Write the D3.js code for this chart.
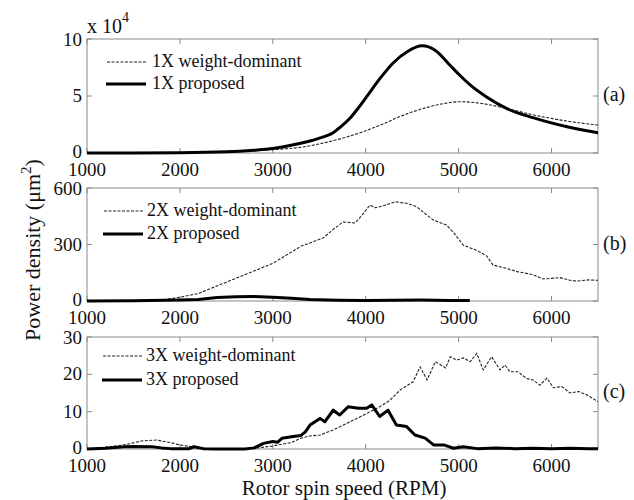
<!DOCTYPE html>
<html>
<head>
<meta charset="utf-8">
<script src="https://cdn.jsdelivr.net/npm/d3@7"></script>
<style>
  body { margin: 0; background: #fff; }
</style>
</head>
<body>
<div id="chart"></div>
<script>
// ---- data ----
const xTicks = [1000, 2000, 3000, 4000, 5000, 6000];

// panel (a), units of 10^4 um^2
const rpm1wd = [1000, 1500, 2000, 2500, 2800, 3000, 3300, 3500, 3750, 4000, 4200, 4400, 4660, 4850, 5015, 5200, 5520, 5800, 6167, 6500];
const val1wd = [0, 0.01, 0.03, 0.1, 0.2, 0.3, 0.5, 0.8, 1.3, 1.95, 2.6, 3.3, 4.0, 4.35, 4.5, 4.4, 3.9, 3.35, 2.8, 2.45];
const rpm1pr = [1000, 1500, 2000, 2500, 2800, 3000, 3300, 3400, 3500, 3575, 3650, 3730, 3830, 3920, 4010, 4150, 4295, 4450, 4606, 4750, 4907, 5015, 5150, 5305, 5520, 5800, 6167, 6500];
const val1pr = [0, 0.005, 0.02, 0.1, 0.25, 0.4, 0.85, 1.05, 1.3, 1.5, 1.78, 2.3, 3.05, 3.95, 4.94, 6.5, 7.9, 8.9, 9.4, 9.0, 7.7, 6.8, 5.8, 4.9, 3.9, 3.1, 2.3, 1.77];

// panel (b), um^2
const rpm2wd = [1000, 1500, 1800, 2000, 2200, 2500, 2750, 3000, 3300, 3540, 3650, 3757, 3885, 3950, 4046, 4100, 4150, 4250, 4315, 4450, 4550, 4650, 4727, 4870, 4950, 5050, 5200, 5300, 5370, 5500, 5630, 5800, 5910, 6090, 6200, 6270, 6400, 6500];
const val2wd = [0, 0, 5, 20, 40, 100, 150, 200, 290, 334, 380, 420, 414, 450, 510, 495, 500, 515, 527, 518, 500, 460, 430, 403, 360, 297, 267, 240, 191, 175, 156, 140, 117, 124, 110, 106, 112, 110];
const rpm2pr = [1000, 1500, 2000, 2200, 2400, 2600, 2800, 3000, 3200, 3400, 3700, 4000, 4300, 4600, 4900, 5120];
const val2pr = [0, 1, 5, 8, 18, 22, 24, 20, 15, 8, 4, 3, 4, 5, 3, 2];

// panel (c), um^2
const rpm3wd = [1000, 1200, 1400, 1600, 1750, 1900, 2000, 2150, 2300, 2500, 2700, 2800, 3000, 3100, 3200, 3300, 3400, 3508, 3650, 3800, 4010, 4150, 4258, 4370, 4510, 4585, 4660, 4750, 4860, 4910, 4980, 5050, 5125, 5195, 5265, 5355, 5445, 5500, 5550, 5640, 5730, 5800, 5875, 5950, 6020, 6110, 6200, 6290, 6380, 6500];
const val3wd = [0, 0.5, 1.1, 2.2, 2.4, 1.7, 1.1, 0.5, 0.1, 0, 0.1, 0.2, 0.8, 1.3, 1.7, 2.9, 3.5, 3.75, 5.1, 6.9, 9.5, 11.3, 13, 15.8, 18, 22, 18.5, 23.4, 21.7, 24.7, 23.8, 24.4, 23.4, 25.6, 21.2, 24.7, 21.2, 22.5, 20.7, 20.7, 18.9, 18.5, 17.1, 19, 16.4, 16.7, 15, 15.4, 14.5, 12.7];
const rpm3pr = [1000, 1200, 1400, 1500, 1700, 1800, 1900, 2100, 2150, 2250, 2400, 2700, 2800, 2900, 3000, 3050, 3100, 3200, 3300, 3350, 3400, 3508, 3560, 3650, 3720, 3810, 3920, 4010, 4065, 4150, 4240, 4330, 4440, 4530, 4640, 4730, 4840, 4945, 5050, 5200, 5400, 5600, 5800, 6000, 6200, 6400, 6500];
const val3pr = [0, 0.2, 0.6, 0.7, 0.6, 0.3, 0.1, 0.1, 0.6, 0.1, 0, 0, 0.3, 1.5, 2, 1.8, 2.9, 3.3, 3.6, 4.6, 6.4, 8.2, 7.3, 10.4, 9.1, 11.3, 10.9, 10.9, 11.8, 8.7, 10.4, 6.4, 6, 3.75, 2.9, 1.1, 1.1, 0.2, 0.6, 0.1, 0.3, 0.1, 0.2, 0.1, 0.2, 0.1, 0.1];

const panels = [
  {tag: "(a)", top: 39, bottom: 153, yMax: 10, yTicks: [0, 5, 10], wd: [rpm1wd, val1wd], pr: [rpm1pr, val1pr], names: ["1X weight-dominant", "1X proposed"], legendY: [62, 84], legendX: [106, 146, 152], exp: true, smooth: true},
  {tag: "(b)", top: 188, bottom: 301, yMax: 600, yTicks: [0, 300, 600], wd: [rpm2wd, val2wd], pr: [rpm2pr, val2pr], names: ["2X weight-dominant", "2X proposed"], legendY: [211, 234], legendX: [103, 143, 147]},
  {tag: "(c)", top: 337, bottom: 449, yMax: 30, yTicks: [0, 10, 20, 30], wd: [rpm3wd, val3wd], pr: [rpm3pr, val3pr], names: ["3X weight-dominant", "3X proposed"], legendY: [356, 380], legendX: [102, 142, 146]}
];

const W = 634, H = 500;
const left = 87, right = 598;
const FONT = "'Liberation Serif', 'Times New Roman', serif";

const svg = d3.select("#chart").append("svg")
  .attr("width", W).attr("height", H)
  .attr("font-family", FONT);

function label(sel, size) {
  return sel.append("text").attr("font-family", FONT).attr("fill", "#111").attr("font-size", size);
}

const x = d3.scaleLinear().domain([1000, 6500]).range([left, right]);

panels.forEach(function(p) {
  const y = d3.scaleLinear().domain([0, p.yMax]).range([p.bottom, p.top]);
  const g = svg.append("g");

  // frame
  g.append("rect")
    .attr("x", left).attr("y", p.top)
    .attr("width", right - left).attr("height", p.bottom - p.top)
    .attr("fill", "none").attr("stroke", "#8a8a8a").attr("stroke-width", 1);

  // inward ticks, bottom + top
  xTicks.forEach(function(t) {
    g.append("line").attr("x1", x(t)).attr("x2", x(t)).attr("y1", p.bottom).attr("y2", p.bottom - 5)
      .attr("stroke", "#8a8a8a");
    g.append("line").attr("x1", x(t)).attr("x2", x(t)).attr("y1", p.top).attr("y2", p.top + 5)
      .attr("stroke", "#8a8a8a");
    label(g, 19).attr("x", x(t)).attr("y", p.bottom + 23)
      .attr("text-anchor", "middle").text(t);
  });
  p.yTicks.forEach(function(t) {
    g.append("line").attr("x1", left).attr("x2", left + 5).attr("y1", y(t)).attr("y2", y(t))
      .attr("stroke", "#8a8a8a");
    g.append("line").attr("x1", right).attr("x2", right - 5).attr("y1", y(t)).attr("y2", y(t))
      .attr("stroke", "#8a8a8a");
    const dy = t === 0 ? 5 : (t === p.yMax ? 7 : 6);
    label(g, 19).attr("x", left - 5).attr("y", y(t) + dy)
      .attr("text-anchor", "end").text(t);
  });

  const line = d3.line().x(d => x(d[0])).y(d => y(d[1]));
  if (p.smooth) line.curve(d3.curveMonotoneX);
  const wdPts = p.wd[0].map((r, i) => [r, p.wd[1][i]]);
  const prPts = p.pr[0].map((r, i) => [r, p.pr[1][i]]);

  g.append("path").attr("d", line(wdPts))
    .attr("fill", "none").attr("stroke", "#222").attr("stroke-width", 1.1)
    .attr("stroke-dasharray", "3,1.5");
  g.append("path").attr("d", line(prPts))
    .attr("fill", "none").attr("stroke", "#000").attr("stroke-width", 3)
    .attr("stroke-linejoin", "round");

  // legend
  const lx = p.legendX;
  g.append("line").attr("x1", lx[0] + 1).attr("x2", lx[1]).attr("y1", p.legendY[0]).attr("y2", p.legendY[0])
    .attr("stroke", "#222").attr("stroke-width", 1.1).attr("stroke-dasharray", "3,1.5");
  g.append("line").attr("x1", lx[0]).attr("x2", lx[1]).attr("y1", p.legendY[1]).attr("y2", p.legendY[1])
    .attr("stroke", "#000").attr("stroke-width", 3);
  p.names.forEach(function(n, i) {
    label(g, 18).attr("x", lx[2]).attr("y", p.legendY[i] + 5).text(n);
  });

  // panel tag
  label(g, 20).attr("x", 603).attr("y", y(p.yMax / 2) + 5).text(p.tag);

  if (p.exp) {
    const t = label(g, 20).attr("x", 87).attr("y", 33);
    t.append("tspan").text("x 10");
    t.append("tspan").attr("dy", -11).attr("font-size", 14).text("4");
  }
});

// axis titles
label(svg, 21)
  .attr("x", 344).attr("y", 495)
  .attr("text-anchor", "middle")
  .text("Rotor spin speed (RPM)");

const yl = label(svg, 22)
  .attr("transform", "translate(40,250) rotate(-90)")
  .attr("text-anchor", "middle");
yl.append("tspan").text("Power density (μm");
yl.append("tspan").attr("dy", -9).attr("font-size", 15).text("2");
yl.append("tspan").attr("dy", 9).text(")");
</script>
</body>
</html>
